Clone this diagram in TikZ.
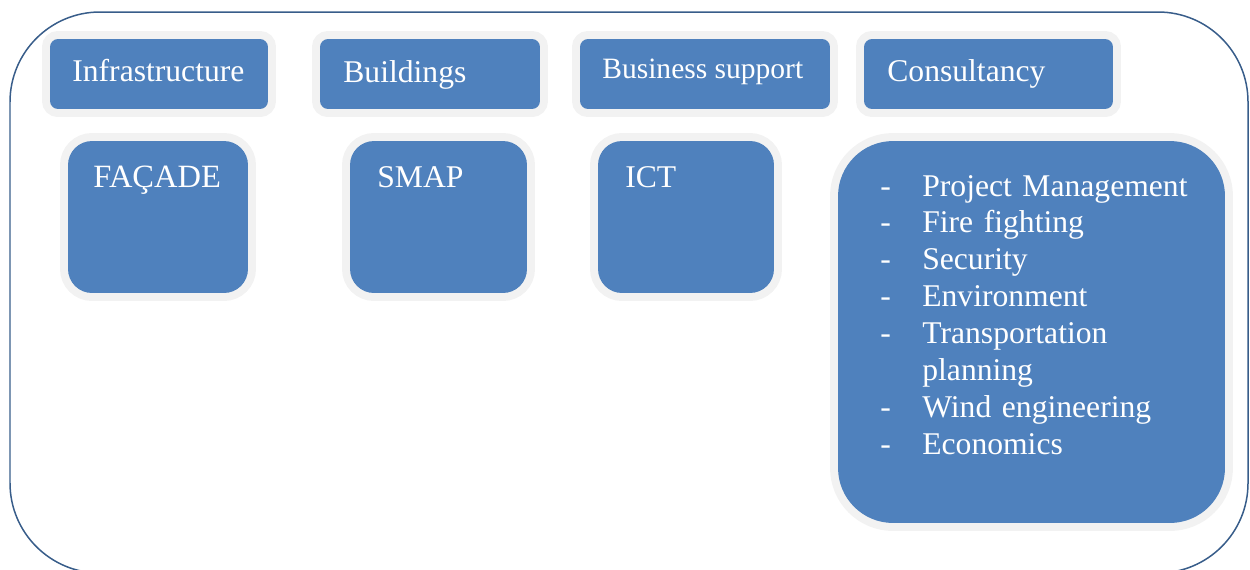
\documentclass[tikz,border=0pt]{standalone}
\usepackage{fontspec}
\setmainfont{Liberation Serif}
\definecolor{boxblue}{RGB}{79,129,189}
\definecolor{halogray}{RGB}{242,242,242}
\definecolor{frameblue}{RGB}{56,93,138}
\tikzset{
  unitbox/.style={fill=boxblue, preaction={draw=halogray, line width=0.32cm}, rounded corners=0.16cm, inner sep=0pt},
  groupbox/.style={unitbox, rounded corners=0.48cm},
  boxtext/.style={text=white, inner sep=0pt, anchor=base west, font=\fontsize{18}{21}\selectfont},
}
\newcommand{\dashitem}{\makebox[0.84cm][l]{-}}
\begin{document}
\begin{tikzpicture}[x=0.02cm, y=-0.02cm]
      \useasboundingbox (0,0) rectangle (1250,569);
      \clip (0,0) rectangle (1250,569);

      % Frame
      \draw[frameblue, line width=0.03cm, rounded corners=1.8cm] (10,12) rectangle (1248,573);

      % Business units
      \node (infra) [unitbox, minimum width=4.36cm, minimum height=1.4cm] at (159,74) {};
      \node (bldg)  [unitbox, minimum width=4.4cm,  minimum height=1.4cm] at (430,74) {};
      \node (bus)   [unitbox, minimum width=5cm,    minimum height=1.4cm] at (705,74) {};
      \node (cons)  [unitbox, minimum width=4.98cm, minimum height=1.4cm] at (988.5,74) {};

      \node (infratext) [boxtext] at (72,81)  {Infrastructure};
      \node (bldgtext)  [boxtext] at (343,82) {Buildings};
      \node (bustext)   [boxtext, font=\fontsize{16.8}{21}\selectfont] at (602,78) {Business support};
      \node (constext)  [boxtext] at (887,81) {Consultancy};

      % Groups
      \node (facade) [groupbox, minimum width=3.6cm,  minimum height=3.04cm] at (158,217) {};
      \node (smap)   [groupbox, minimum width=3.54cm, minimum height=3.04cm] at (438.5,217) {};
      \node (ict)    [groupbox, minimum width=3.52cm, minimum height=3.04cm] at (686,217) {};
      \node (conslist) [groupbox, rounded corners=1.1cm, minimum width=7.74cm, minimum height=7.64cm] at (1031.5,332) {};

      \node (facadetext) [boxtext, font=\fontsize{18.5}{21}\selectfont] at (93,187) {FAÇADE};
      \node (smaptext)   [boxtext] at (377,187) {SMAP};
      \node (icttext)    [boxtext] at (625,187) {ICT};
      \node (liststext)  [boxtext, text width=7cm, align=left] at (880,196) {%
        \dashitem Project Management\\
        \dashitem Fire fighting\\
        \dashitem Security\\
        \dashitem Environment\\
        \dashitem Transportation\\
        \hspace*{0.84cm}planning\\
        \dashitem Wind engineering\\
        \dashitem Economics};
\end{tikzpicture}
\end{document}
